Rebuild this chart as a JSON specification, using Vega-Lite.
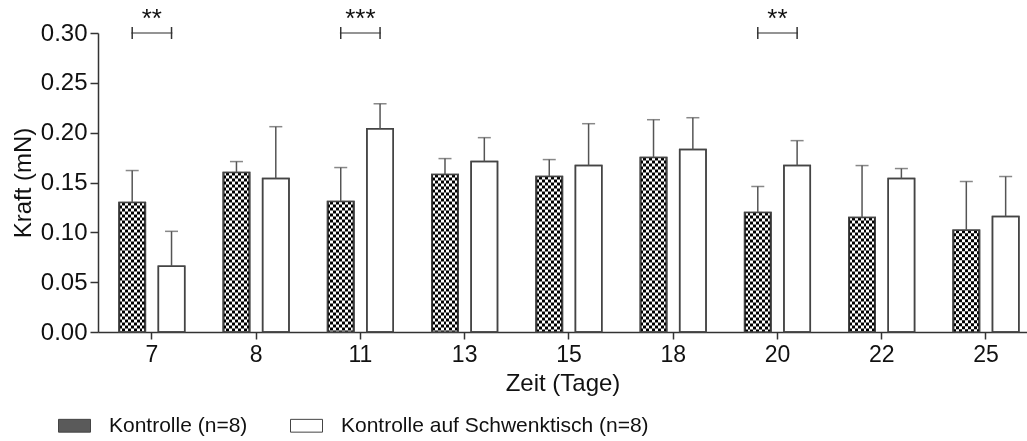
{
  "$schema": "https://vega.github.io/schema/vega-lite/v6.json",
  "width": 929,
  "height": 299,
  "autosize": {"type": "none"},
  "padding": {"left": 98, "top": 33, "right": 0, "bottom": 109},
  "background": "white",
  "config": {
    "font": "Liberation Sans",
    "view": {"stroke": null},
    "axis": {
      "labelFont": "Liberation Sans",
      "titleFont": "Liberation Sans",
      "labelColor": "#111",
      "titleColor": "#111",
      "titleFontWeight": "normal",
      "domainColor": "#333",
      "domainWidth": 1.5,
      "tickColor": "#333",
      "tickWidth": 1.5,
      "grid": false,
      "zindex": 1
    },
    "legend": {"labelFont": "Liberation Sans", "labelColor": "#111"}
  },
  "datasets": {
    "kraft": [
      {"Tag": 7, "Gruppe": "Kontrolle (n=8)", "Kraft": 0.130, "Oben": 0.162},
      {"Tag": 7, "Gruppe": "Kontrolle auf Schwenktisch (n=8)", "Kraft": 0.066, "Oben": 0.101},
      {"Tag": 8, "Gruppe": "Kontrolle (n=8)", "Kraft": 0.160, "Oben": 0.171},
      {"Tag": 8, "Gruppe": "Kontrolle auf Schwenktisch (n=8)", "Kraft": 0.154, "Oben": 0.206},
      {"Tag": 11, "Gruppe": "Kontrolle (n=8)", "Kraft": 0.131, "Oben": 0.165},
      {"Tag": 11, "Gruppe": "Kontrolle auf Schwenktisch (n=8)", "Kraft": 0.204, "Oben": 0.229},
      {"Tag": 13, "Gruppe": "Kontrolle (n=8)", "Kraft": 0.158, "Oben": 0.174},
      {"Tag": 13, "Gruppe": "Kontrolle auf Schwenktisch (n=8)", "Kraft": 0.171, "Oben": 0.195},
      {"Tag": 15, "Gruppe": "Kontrolle (n=8)", "Kraft": 0.156, "Oben": 0.173},
      {"Tag": 15, "Gruppe": "Kontrolle auf Schwenktisch (n=8)", "Kraft": 0.167, "Oben": 0.209},
      {"Tag": 18, "Gruppe": "Kontrolle (n=8)", "Kraft": 0.175, "Oben": 0.213},
      {"Tag": 18, "Gruppe": "Kontrolle auf Schwenktisch (n=8)", "Kraft": 0.183, "Oben": 0.215},
      {"Tag": 20, "Gruppe": "Kontrolle (n=8)", "Kraft": 0.120, "Oben": 0.146},
      {"Tag": 20, "Gruppe": "Kontrolle auf Schwenktisch (n=8)", "Kraft": 0.167, "Oben": 0.192},
      {"Tag": 22, "Gruppe": "Kontrolle (n=8)", "Kraft": 0.115, "Oben": 0.167},
      {"Tag": 22, "Gruppe": "Kontrolle auf Schwenktisch (n=8)", "Kraft": 0.154, "Oben": 0.164},
      {"Tag": 25, "Gruppe": "Kontrolle (n=8)", "Kraft": 0.102, "Oben": 0.151},
      {"Tag": 25, "Gruppe": "Kontrolle auf Schwenktisch (n=8)", "Kraft": 0.116, "Oben": 0.156}
    ],
    "sig": [
      {"Tag": 7, "Sterne": "**"},
      {"Tag": 11, "Sterne": "***"},
      {"Tag": 20, "Sterne": "**"}
    ]
  },
  "layer": [
    {
      "data": {"name": "kraft"},
      "mark": {"type": "bar", "stroke": "#444", "strokeWidth": 1.5},
      "encoding": {
        "x": {
          "field": "Tag", "type": "ordinal", "title": "Zeit (Tage)",
          "scale": {"paddingInner": 0.37, "paddingOuter": 0.14, "align": 0.72},
          "axis": {"labelAngle": 0, "tickSize": 7, "labelPadding": 4, "labelFontSize": 23, "titleFontSize": 24, "titlePadding": 5}
        },
        "xOffset": {
          "field": "Gruppe", "type": "nominal",
          "scale": {"domain": ["Kontrolle (n=8)", "Kontrolle auf Schwenktisch (n=8)"], "paddingInner": 0.33, "paddingOuter": 0}
        },
        "y": {
          "field": "Kraft", "type": "quantitative", "title": "Kraft (mN)",
          "scale": {"domain": [0, 0.3], "nice": false, "zero": true},
          "axis": {"values": [0, 0.05, 0.1, 0.15, 0.2, 0.25, 0.3], "format": ".2f", "tickSize": 8, "labelPadding": 3, "labelFontSize": 24, "titleFontSize": 24, "titlePadding": 5}
        },
        "fill": {
          "field": "Gruppe", "type": "nominal",
          "scale": {
            "domain": ["Kontrolle (n=8)", "Kontrolle auf Schwenktisch (n=8)"],
            "range": ["#5a5a5a", "#ffffff"]
          },
          "legend": {
            "title": null, "orient": "none", "legendX": -40, "legendY": 376,
            "direction": "horizontal",
            "symbolType": "M-1,-0.4H1V0.4H-1Z", "symbolSize": 1024,
            "symbolStrokeColor": "#444", "symbolStrokeWidth": 1, "symbolOpacity": 1,
            "labelFontSize": 21, "labelOffset": 18, "columnPadding": 40, "labelLimit": 500
          }
        }
      }
    },
    {
      "data": {"name": "kraft"},
      "transform": [{"filter": "datum.Gruppe == 'Kontrolle (n=8)'"}],
      "mark": {
        "type": "bar",
        "fill": {"gradient": "linear", "x1": 0, "y1": 0, "x2": 1, "y2": 0, "stops": [
          {"offset": 0, "color": "#000000"}, {"offset": 0.111, "color": "#000000"},
          {"offset": 0.111, "color": "#ffffff"}, {"offset": 0.222, "color": "#ffffff"},
          {"offset": 0.222, "color": "#000000"}, {"offset": 0.333, "color": "#000000"},
          {"offset": 0.333, "color": "#ffffff"}, {"offset": 0.444, "color": "#ffffff"},
          {"offset": 0.444, "color": "#000000"}, {"offset": 0.556, "color": "#000000"},
          {"offset": 0.556, "color": "#ffffff"}, {"offset": 0.667, "color": "#ffffff"},
          {"offset": 0.667, "color": "#000000"}, {"offset": 0.778, "color": "#000000"},
          {"offset": 0.778, "color": "#ffffff"}, {"offset": 0.889, "color": "#ffffff"},
          {"offset": 0.889, "color": "#000000"}, {"offset": 1, "color": "#000000"}
        ]},
        "opacity": 1
      },
      "encoding": {
        "x": {"field": "Tag", "type": "ordinal"},
        "xOffset": {"field": "Gruppe", "type": "nominal"},
        "y": {"field": "Kraft", "type": "quantitative"}
      }
    },
    {
      "data": {"name": "kraft"},
      "transform": [{"filter": "datum.Gruppe == 'Kontrolle (n=8)'"}],
      "mark": {"type": "rule", "color": "#ffffff", "strokeWidth": 24, "strokeDash": [3, 3], "blend": "difference"},
      "encoding": {
        "x": {"field": "Tag", "type": "ordinal"},
        "xOffset": {"field": "Gruppe", "type": "nominal"},
        "y": {"field": "Kraft", "type": "quantitative"},
        "y2": {"datum": 0}
      }
    },
    {
      "data": {"name": "kraft"},
      "mark": {"type": "bar", "fill": "transparent", "stroke": "#444", "strokeWidth": 1.5},
      "encoding": {
        "x": {"field": "Tag", "type": "ordinal"},
        "xOffset": {"field": "Gruppe", "type": "nominal"},
        "y": {"field": "Kraft", "type": "quantitative"}
      }
    },
    {
      "data": {"name": "kraft"},
      "mark": {"type": "rule", "color": "#555", "strokeWidth": 1.5},
      "encoding": {
        "x": {"field": "Tag", "type": "ordinal"},
        "xOffset": {"field": "Gruppe", "type": "nominal"},
        "y": {"field": "Kraft", "type": "quantitative"},
        "y2": {"field": "Oben"}
      }
    },
    {
      "data": {"name": "kraft"},
      "mark": {"type": "tick", "color": "#555", "size": 13, "thickness": 1.5, "orient": "horizontal"},
      "encoding": {
        "x": {"field": "Tag", "type": "ordinal"},
        "xOffset": {"field": "Gruppe", "type": "nominal"},
        "y": {"field": "Oben", "type": "quantitative"}
      }
    },
    {
      "data": {"name": "sig"},
      "mark": {"type": "tick", "color": "#333", "size": 41, "thickness": 1.5, "orient": "horizontal"},
      "encoding": {
        "x": {"field": "Tag", "type": "ordinal"},
        "y": {"datum": 0.3}
      }
    },
    {
      "data": {"name": "kraft"},
      "transform": [{"filter": "datum.Tag == 7 || datum.Tag == 11 || datum.Tag == 20"}],
      "mark": {"type": "rule", "color": "#333", "strokeWidth": 1.5},
      "encoding": {
        "x": {"field": "Tag", "type": "ordinal"},
        "xOffset": {"field": "Gruppe", "type": "nominal"},
        "y": {"datum": 0.294},
        "y2": {"datum": 0.306}
      }
    },
    {
      "data": {"name": "sig"},
      "mark": {"type": "text", "fontSize": 26, "dy": -6, "baseline": "alphabetic", "color": "#111", "font": "Liberation Sans"},
      "encoding": {
        "x": {"field": "Tag", "type": "ordinal"},
        "y": {"datum": 0.3},
        "text": {"field": "Sterne"}
      }
    }
  ]
}
